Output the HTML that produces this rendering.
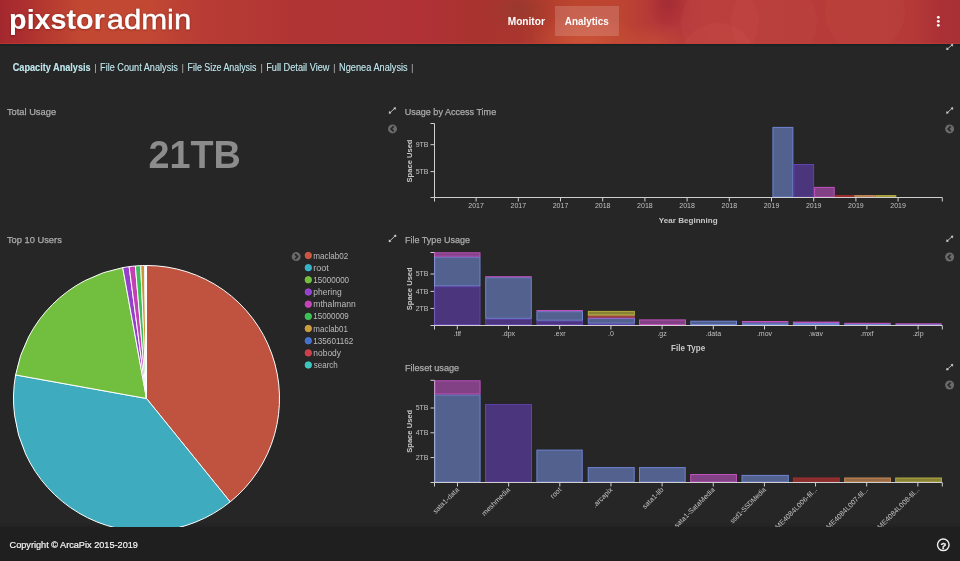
<!DOCTYPE html>
<html><head><meta charset="utf-8"><style>
html,body{margin:0;padding:0;width:960px;height:561px;overflow:hidden;background:#262626;}
#hdr{display:none;}
#hdr:after{content:"";position:absolute;left:0;top:43px;width:960px;height:1px;background:#c43c38;}
#hl{position:absolute;left:0;top:44px;width:960px;height:2px;background:#1c2323;}
#ft{position:absolute;left:0;top:523px;width:960px;height:4px;background:linear-gradient(#262626,#222);}
svg{position:absolute;left:0;top:0;will-change:transform;}
text{font-family:"Liberation Sans",sans-serif;}
</style></head><body>
<div id="ft"></div>
<svg width="960" height="561" viewBox="0 0 960 561">
<defs><filter id="lsh" x="-5%" y="-20%" width="110%" height="140%"><feDropShadow dx="0" dy="0.5" stdDeviation="0.8" flood-color="#500" flood-opacity="0.6"/></filter><filter id="sh" x="-5%" y="-30%" width="110%" height="160%"><feDropShadow dx="0" dy="0" stdDeviation="0.6" flood-color="#000" flood-opacity="0.9"/></filter></defs>
<defs>
<linearGradient id="hg" x1="0" x2="960" y1="0" y2="0" gradientUnits="userSpaceOnUse">
<stop offset="0" stop-color="#a3282e"/><stop offset="0.02" stop-color="#ab2d2f"/><stop offset="0.05" stop-color="#b73a30"/>
<stop offset="0.085" stop-color="#c24832"/><stop offset="0.155" stop-color="#c24834"/><stop offset="0.21" stop-color="#b83c34"/>
<stop offset="0.31" stop-color="#b13434"/><stop offset="0.44" stop-color="#b03237"/><stop offset="0.49" stop-color="#a9332f"/>
<stop offset="0.54" stop-color="#a9362e"/><stop offset="0.6" stop-color="#bd452e"/><stop offset="0.65" stop-color="#bc4432"/>
<stop offset="0.69" stop-color="#b2353a"/><stop offset="0.74" stop-color="#b83c39"/><stop offset="0.92" stop-color="#b73b38"/>
<stop offset="0.955" stop-color="#b33837"/><stop offset="0.98" stop-color="#aa3035"/><stop offset="1" stop-color="#a93135"/></linearGradient>
<radialGradient id="og"><stop offset="0" stop-color="#cc5538" stop-opacity="0.85"/><stop offset="1" stop-color="#cc5538" stop-opacity="0"/></radialGradient>
<radialGradient id="dg"><stop offset="0" stop-color="#9a2530" stop-opacity="0.7"/><stop offset="1" stop-color="#9a2530" stop-opacity="0"/></radialGradient>
<radialGradient id="bg2"><stop offset="0" stop-color="#8f3a2c" stop-opacity="0.6"/><stop offset="1" stop-color="#8f3a2c" stop-opacity="0"/></radialGradient>
<clipPath id="hc"><rect x="0" y="0" width="960" height="44"/></clipPath>
<filter id="bl" x="-20%" y="-20%" width="140%" height="140%"><feGaussianBlur stdDeviation="0.6"/></filter>
</defs>
<g clip-path="url(#hc)"><rect x="0" y="0" width="960" height="44" fill="url(#hg)"/>
<ellipse cx="585" cy="42" rx="55" ry="30" fill="url(#og)"/>
<ellipse cx="655" cy="44" rx="40" ry="22" fill="url(#og)" opacity="0.7"/>
<ellipse cx="668" cy="4" rx="22" ry="24" fill="url(#dg)" opacity="0.8"/>
<ellipse cx="520" cy="10" rx="35" ry="22" fill="url(#bg2)"/>
<g filter="url(#bl)">
<circle cx="720" cy="22" r="39" fill="#e07070" fill-opacity="0.07"/>
<circle cx="774" cy="22" r="43" fill="#e07070" fill-opacity="0.06"/>
<circle cx="718" cy="61" r="38" fill="#e06a5a" fill-opacity="0.10"/>
<circle cx="865" cy="12" r="40" fill="#e07060" fill-opacity="0.06"/>
</g></g>
<rect x="0" y="43" width="960" height="1" fill="#c43c38" fill-opacity="0.6"/>
<rect x="0" y="44" width="960" height="2" fill="#1c2323"/>
<text x="9.11" y="28.9" font-size="28" fill="#fff" font-weight="bold" textLength="95.73" lengthAdjust="spacingAndGlyphs" filter="url(#lsh)">pixstor</text>
<text x="106.68" y="28.9" font-size="28" fill="#fff" textLength="84.64" lengthAdjust="spacingAndGlyphs" stroke="#fff" stroke-width="0.3" filter="url(#lsh)">admin</text>
<rect x="555" y="6" width="64" height="30" fill="#fff" fill-opacity="0.16"/>
<text x="507.72" y="25" font-size="10.2" fill="#fff" font-weight="bold" textLength="37.13" lengthAdjust="spacingAndGlyphs" >Monitor</text>
<text x="564.75" y="25" font-size="10.2" fill="#fff" font-weight="bold" textLength="43.95" lengthAdjust="spacingAndGlyphs" >Analytics</text>
<circle cx="938.3" cy="17.3" r="1.4" fill="#fff"/>
<circle cx="938.3" cy="21.3" r="1.4" fill="#fff"/>
<circle cx="938.3" cy="25.3" r="1.4" fill="#fff"/>
<text x="12.73" y="71" font-size="10" fill="#bde3ea" font-weight="bold" textLength="77.95" lengthAdjust="spacingAndGlyphs" filter="url(#sh)">Capacity Analysis</text>
<rect x="95.0" y="64" width="1" height="9" fill="#9a9a9a"/>
<text x="100.05" y="71" font-size="10" fill="#bde3ea" textLength="77.77" lengthAdjust="spacingAndGlyphs" filter="url(#sh)">File Count Analysis</text>
<rect x="182.2" y="64" width="1" height="9" fill="#9a9a9a"/>
<text x="187.58" y="71" font-size="10" fill="#bde3ea" textLength="68.84" lengthAdjust="spacingAndGlyphs" filter="url(#sh)">File Size Analysis</text>
<rect x="261.1" y="64" width="1" height="9" fill="#9a9a9a"/>
<text x="266.15" y="71" font-size="10" fill="#bde3ea" textLength="63.33" lengthAdjust="spacingAndGlyphs" filter="url(#sh)">Full Detail View</text>
<rect x="333.9" y="64" width="1" height="9" fill="#9a9a9a"/>
<text x="339.05" y="71" font-size="10" fill="#bde3ea" textLength="68.68" lengthAdjust="spacingAndGlyphs" filter="url(#sh)">Ngenea Analysis</text>
<rect x="411.8" y="64" width="1" height="9" fill="#9a9a9a"/>
<text x="6.89" y="114.8" font-size="9.8" fill="#acacac" textLength="49.21" lengthAdjust="spacingAndGlyphs" stroke="#acacac" stroke-width="0.25">Total Usage</text>
<text x="6.89" y="243" font-size="9.8" fill="#acacac" textLength="54.94" lengthAdjust="spacingAndGlyphs" stroke="#acacac" stroke-width="0.25">Top 10 Users</text>
<text x="404.71" y="114.6" font-size="9.8" fill="#acacac" textLength="91.49" lengthAdjust="spacingAndGlyphs" stroke="#acacac" stroke-width="0.25">Usage by Access Time</text>
<text x="404.97" y="242.8" font-size="9.8" fill="#acacac" textLength="65.03" lengthAdjust="spacingAndGlyphs" stroke="#acacac" stroke-width="0.25">File Type Usage</text>
<text x="404.95" y="370.8" font-size="9.8" fill="#acacac" textLength="54.2" lengthAdjust="spacingAndGlyphs" stroke="#acacac" stroke-width="0.25">Fileset usage</text>
<text x="148.39" y="168.2" font-size="38.5" fill="#8c8c8c" font-weight="bold" textLength="92.43" lengthAdjust="spacingAndGlyphs" >21TB</text>
<line x1="389.4" y1="113.1" x2="395.3" y2="107.9" stroke="#c8c8c8" stroke-width="0.9"/>
<path d="M395.6 107.60000000000001 l-2.0 0.35 l1.65 1.65 z" fill="#d4d4d4" stroke="#d4d4d4" stroke-width="0.5" stroke-linejoin="round"/>
<path d="M389.09999999999997 113.39999999999999 l2.0 -0.35 l-1.65 -1.65 z" fill="#d4d4d4" stroke="#d4d4d4" stroke-width="0.5" stroke-linejoin="round"/>
<circle cx="392.5" cy="128.9" r="4.5" fill="#6a6a6a"/>
<path d="M393.6 126.4 L391.1 128.9 L393.6 131.4" fill="none" stroke="#262626" stroke-width="1.6"/>
<line x1="946.8" y1="113.1" x2="952.6" y2="107.9" stroke="#c8c8c8" stroke-width="0.9"/>
<path d="M952.9 107.60000000000001 l-2.0 0.35 l1.65 1.65 z" fill="#d4d4d4" stroke="#d4d4d4" stroke-width="0.5" stroke-linejoin="round"/>
<path d="M946.5 113.39999999999999 l2.0 -0.35 l-1.65 -1.65 z" fill="#d4d4d4" stroke="#d4d4d4" stroke-width="0.5" stroke-linejoin="round"/>
<circle cx="949.6" cy="128.9" r="4.5" fill="#6a6a6a"/>
<path d="M950.7 126.4 L948.2 128.9 L950.7 131.4" fill="none" stroke="#262626" stroke-width="1.6"/>
<line x1="389.2" y1="241.5" x2="395.8" y2="235.3" stroke="#c8c8c8" stroke-width="0.9"/>
<path d="M396.1 235.0 l-2.0 0.35 l1.65 1.65 z" fill="#d4d4d4" stroke="#d4d4d4" stroke-width="0.5" stroke-linejoin="round"/>
<path d="M388.9 241.8 l2.0 -0.35 l-1.65 -1.65 z" fill="#d4d4d4" stroke="#d4d4d4" stroke-width="0.5" stroke-linejoin="round"/>
<line x1="946.8" y1="241.3" x2="952.6" y2="236.2" stroke="#c8c8c8" stroke-width="0.9"/>
<path d="M952.9 235.89999999999998 l-2.0 0.35 l1.65 1.65 z" fill="#d4d4d4" stroke="#d4d4d4" stroke-width="0.5" stroke-linejoin="round"/>
<path d="M946.5 241.60000000000002 l2.0 -0.35 l-1.65 -1.65 z" fill="#d4d4d4" stroke="#d4d4d4" stroke-width="0.5" stroke-linejoin="round"/>
<circle cx="949.6" cy="257" r="4.5" fill="#6a6a6a"/>
<path d="M950.7 254.5 L948.2 257 L950.7 259.5" fill="none" stroke="#262626" stroke-width="1.6"/>
<line x1="946.8" y1="369.8" x2="952.6" y2="364.6" stroke="#c8c8c8" stroke-width="0.9"/>
<path d="M952.9 364.3 l-2.0 0.35 l1.65 1.65 z" fill="#d4d4d4" stroke="#d4d4d4" stroke-width="0.5" stroke-linejoin="round"/>
<path d="M946.5 370.1 l2.0 -0.35 l-1.65 -1.65 z" fill="#d4d4d4" stroke="#d4d4d4" stroke-width="0.5" stroke-linejoin="round"/>
<circle cx="949.6" cy="385" r="4.5" fill="#6a6a6a"/>
<path d="M950.7 382.5 L948.2 385 L950.7 387.5" fill="none" stroke="#262626" stroke-width="1.6"/>
<line x1="946.8" y1="49.4" x2="952.6" y2="44.6" stroke="#c8c8c8" stroke-width="0.9"/>
<path d="M952.9 44.300000000000004 l-2.0 0.35 l1.65 1.65 z" fill="#d4d4d4" stroke="#d4d4d4" stroke-width="0.5" stroke-linejoin="round"/>
<path d="M946.5 49.699999999999996 l2.0 -0.35 l-1.65 -1.65 z" fill="#d4d4d4" stroke="#d4d4d4" stroke-width="0.5" stroke-linejoin="round"/>
<circle cx="296.2" cy="256.6" r="4.5" fill="#6a6a6a"/>
<path d="M295.09999999999997 254.10000000000002 L297.59999999999997 256.6 L295.09999999999997 259.1" fill="none" stroke="#262626" stroke-width="1.6"/>
<g stroke="#fff" stroke-width="1" stroke-linejoin="round">
<path d="M146.5 398.5 L146.50 265.50 A133 133 0 0 1 230.20 501.86 Z" fill="#c05240"/>
<path d="M146.5 398.5 L230.20 501.86 A133 133 0 0 1 15.60 374.95 Z" fill="#3eacbe"/>
<path d="M146.5 398.5 L15.60 374.95 A133 133 0 0 1 122.72 267.64 Z" fill="#72bf40"/>
<path d="M146.5 398.5 L122.72 267.64 A133 133 0 0 1 129.14 266.64 Z" fill="#9440cc"/>
<path d="M146.5 398.5 L129.14 266.64 A133 133 0 0 1 135.37 265.97 Z" fill="#c240b4"/>
<path d="M146.5 398.5 L135.37 265.97 A133 133 0 0 1 140.70 265.63 Z" fill="#3cbf55"/>
<path d="M146.5 398.5 L140.70 265.63 A133 133 0 0 1 144.64 265.51 Z" fill="#c99535"/>
<path d="M146.5 398.5 L144.64 265.51 A133 133 0 0 1 145.57 265.50 Z" fill="#4468cc"/>
<path d="M146.5 398.5 L145.57 265.50 A133 133 0 0 1 146.04 265.50 Z" fill="#cc3c48"/>
<path d="M146.5 398.5 L146.04 265.50 A133 133 0 0 1 146.50 265.50 Z" fill="#3cc4bc"/>
</g>
<circle cx="308.3" cy="255.5" r="3.2" fill="#c85540" stroke="#d85a48" stroke-width="0.9"/>
<text x="313.36" y="258.5" font-size="8.2" fill="#bcbcbc" textLength="34.94" lengthAdjust="spacingAndGlyphs" >maclab02</text>
<circle cx="308.3" cy="267.7" r="3.2" fill="#38b0c4" stroke="#3cc0d4" stroke-width="0.9"/>
<text x="313.3" y="270.67" font-size="8.2" fill="#bcbcbc" textLength="15.46" lengthAdjust="spacingAndGlyphs" >root</text>
<circle cx="308.3" cy="279.8" r="3.2" fill="#70c03a" stroke="#7ccc44" stroke-width="0.9"/>
<text x="313.29" y="282.84" font-size="8.2" fill="#bcbcbc" textLength="35.83" lengthAdjust="spacingAndGlyphs" >15000000</text>
<circle cx="308.3" cy="292.0" r="3.2" fill="#9442cc" stroke="#a04cd8" stroke-width="0.9"/>
<text x="313.35" y="295.01" font-size="8.2" fill="#bcbcbc" textLength="28.4" lengthAdjust="spacingAndGlyphs" >phering</text>
<circle cx="308.3" cy="304.2" r="3.2" fill="#c442b8" stroke="#d04cc4" stroke-width="0.9"/>
<text x="313.33" y="307.18" font-size="8.2" fill="#bcbcbc" textLength="42.43" lengthAdjust="spacingAndGlyphs" >mthalmann</text>
<circle cx="308.3" cy="316.4" r="3.2" fill="#3cc055" stroke="#44cc60" stroke-width="0.9"/>
<text x="313.29" y="319.35" font-size="8.2" fill="#bcbcbc" textLength="35.49" lengthAdjust="spacingAndGlyphs" >15000009</text>
<circle cx="308.3" cy="328.5" r="3.2" fill="#cc9c3c" stroke="#d8a848" stroke-width="0.9"/>
<text x="313.37" y="331.52" font-size="8.2" fill="#bcbcbc" textLength="34.52" lengthAdjust="spacingAndGlyphs" >maclab01</text>
<circle cx="308.3" cy="340.7" r="3.2" fill="#4570d0" stroke="#4c7cdc" stroke-width="0.9"/>
<text x="313.29" y="343.69" font-size="8.2" fill="#bcbcbc" textLength="40.11" lengthAdjust="spacingAndGlyphs" >135601162</text>
<circle cx="308.3" cy="352.9" r="3.2" fill="#cc3e4a" stroke="#d84854" stroke-width="0.9"/>
<text x="313.34" y="355.86" font-size="8.2" fill="#bcbcbc" textLength="27.68" lengthAdjust="spacingAndGlyphs" >nobody</text>
<circle cx="308.3" cy="365.0" r="3.2" fill="#3cc4bc" stroke="#44d0c8" stroke-width="0.9"/>
<text x="313.68" y="368.03" font-size="8.2" fill="#bcbcbc" textLength="24.15" lengthAdjust="spacingAndGlyphs" >search</text>
<path d="M430.5 123.5 H434.5 V197.5 H430.5" fill="none" stroke="#d0d0d0" stroke-width="1"/>
<line x1="430.5" y1="144.7" x2="434.5" y2="144.7" stroke="#d0d0d0" stroke-width="1"/>
<text x="428.5" y="147.1" font-size="7" fill="#c0c0c0" text-anchor="end" >9TB</text>
<line x1="430.5" y1="171.6" x2="434.5" y2="171.6" stroke="#d0d0d0" stroke-width="1"/>
<text x="428.5" y="174.0" font-size="7" fill="#c0c0c0" text-anchor="end" >5TB</text>
<text x="476.1" y="207.5" font-size="7" fill="#c0c0c0" text-anchor="middle" >2017</text>
<text x="518.3" y="207.5" font-size="7" fill="#c0c0c0" text-anchor="middle" >2017</text>
<text x="560.5" y="207.5" font-size="7" fill="#c0c0c0" text-anchor="middle" >2017</text>
<text x="602.7" y="207.5" font-size="7" fill="#c0c0c0" text-anchor="middle" >2018</text>
<text x="644.9" y="207.5" font-size="7" fill="#c0c0c0" text-anchor="middle" >2018</text>
<text x="687.1" y="207.5" font-size="7" fill="#c0c0c0" text-anchor="middle" >2018</text>
<text x="729.3" y="207.5" font-size="7" fill="#c0c0c0" text-anchor="middle" >2018</text>
<text x="771.5" y="207.5" font-size="7" fill="#c0c0c0" text-anchor="middle" >2019</text>
<text x="813.7" y="207.5" font-size="7" fill="#c0c0c0" text-anchor="middle" >2019</text>
<text x="855.9" y="207.5" font-size="7" fill="#c0c0c0" text-anchor="middle" >2019</text>
<text x="898.1" y="207.5" font-size="7" fill="#c0c0c0" text-anchor="middle" >2019</text>
<text x="658.86" y="222.9" font-size="8" fill="#c8c8c8" font-weight="bold" textLength="58.77" lengthAdjust="spacingAndGlyphs" >Year Beginning</text>
<text transform="translate(411.5,161) rotate(-90)" font-size="8" font-weight="bold" fill="#c8c8c8" text-anchor="middle" textLength="43" lengthAdjust="spacingAndGlyphs">Space Used</text>
<rect x="772.9" y="127.4" width="20.0" height="69.6" fill="#7088d2" fill-opacity="0.6" stroke="#6f84d2" stroke-width="1"/>
<rect x="793.9" y="164.5" width="19.7" height="32.5" fill="#643fb5" fill-opacity="0.6" stroke="#6242b0" stroke-width="1"/>
<rect x="814.6" y="187.4" width="19.6" height="9.6" fill="#bf53c3" fill-opacity="0.6" stroke="#c052c0" stroke-width="1"/>
<rect x="835.2" y="195.6" width="18.6" height="1.4" fill="#cc3434" fill-opacity="0.6" stroke="#a62e2e" stroke-width="1"/>
<rect x="854.8" y="195.6" width="20.1" height="1.4" fill="#e09a5c" fill-opacity="0.6" stroke="#c88a58" stroke-width="1"/>
<rect x="875.9" y="195.6" width="19.9" height="1.4" fill="#c8c040" fill-opacity="0.6" stroke="#b4ac40" stroke-width="1"/>
<path d="M430.5 252.5 H434.5 V325.5 H430.5" fill="none" stroke="#d0d0d0" stroke-width="1"/>
<line x1="430.5" y1="274" x2="434.5" y2="274" stroke="#d0d0d0" stroke-width="1"/>
<text x="428.5" y="276.4" font-size="7" fill="#c0c0c0" text-anchor="end" >5TB</text>
<line x1="430.5" y1="291.4" x2="434.5" y2="291.4" stroke="#d0d0d0" stroke-width="1"/>
<text x="428.5" y="293.79999999999995" font-size="7" fill="#c0c0c0" text-anchor="end" >4TB</text>
<line x1="430.5" y1="308.4" x2="434.5" y2="308.4" stroke="#d0d0d0" stroke-width="1"/>
<text x="428.5" y="310.79999999999995" font-size="7" fill="#c0c0c0" text-anchor="end" >2TB</text>
<text x="457.3" y="335.5" font-size="7" fill="#c0c0c0" text-anchor="middle" >.tif</text>
<text x="508.5" y="335.5" font-size="7" fill="#c0c0c0" text-anchor="middle" >.dpx</text>
<text x="559.7" y="335.5" font-size="7" fill="#c0c0c0" text-anchor="middle" >.exr</text>
<text x="610.9" y="335.5" font-size="7" fill="#c0c0c0" text-anchor="middle" >.0</text>
<text x="662.1" y="335.5" font-size="7" fill="#c0c0c0" text-anchor="middle" >.gz</text>
<text x="713.3" y="335.5" font-size="7" fill="#c0c0c0" text-anchor="middle" >.data</text>
<text x="764.5" y="335.5" font-size="7" fill="#c0c0c0" text-anchor="middle" >.mov</text>
<text x="815.7" y="335.5" font-size="7" fill="#c0c0c0" text-anchor="middle" >.wav</text>
<text x="866.9" y="335.5" font-size="7" fill="#c0c0c0" text-anchor="middle" >.mxf</text>
<text x="918.1" y="335.5" font-size="7" fill="#c0c0c0" text-anchor="middle" >.zip</text>
<text x="671.07" y="351" font-size="8.2" fill="#c8c8c8" font-weight="bold" textLength="34.1" lengthAdjust="spacingAndGlyphs" >File Type</text>
<text transform="translate(411.5,288.8) rotate(-90)" font-size="8" font-weight="bold" fill="#c8c8c8" text-anchor="middle" textLength="43" lengthAdjust="spacingAndGlyphs">Space Used</text>
<rect x="434.7" y="286.8" width="45.3" height="37.7" fill="#643fb5" fill-opacity="0.6" stroke="#6242b0" stroke-width="1"/>
<rect x="434.7" y="257.2" width="45.3" height="28.6" fill="#7088d2" fill-opacity="0.6" stroke="#6f84d2" stroke-width="1"/>
<rect x="434.7" y="252.8" width="45.3" height="3.4" fill="#bf53c3" fill-opacity="0.6" stroke="#c052c0" stroke-width="1"/>
<rect x="485.7" y="319.3" width="45.6" height="5.2" fill="#643fb5" fill-opacity="0.6" stroke="#6242b0" stroke-width="1"/>
<rect x="485.7" y="277.7" width="45.6" height="40.6" fill="#7088d2" fill-opacity="0.6" stroke="#6f84d2" stroke-width="1"/>
<rect x="485.7" y="276.7" width="45.6" height="0.1" fill="#bf53c3" fill-opacity="0.6" stroke="#c052c0" stroke-width="1"/>
<rect x="536.9" y="321.2" width="45.6" height="3.3" fill="#643fb5" fill-opacity="0.6" stroke="#6242b0" stroke-width="1"/>
<rect x="536.9" y="311.7" width="45.6" height="8.5" fill="#7088d2" fill-opacity="0.6" stroke="#6f84d2" stroke-width="1"/>
<rect x="536.9" y="310.5" width="45.6" height="0.2" fill="#bf53c3" fill-opacity="0.6" stroke="#c052c0" stroke-width="1"/>
<rect x="588.3" y="324.1" width="46.1" height="0.4" fill="#643fb5" fill-opacity="0.6" stroke="#6242b0" stroke-width="1"/>
<rect x="588.3" y="318.6" width="46.1" height="4.5" fill="#7088d2" fill-opacity="0.6" stroke="#6f84d2" stroke-width="1"/>
<rect x="588.3" y="317.8" width="46.1" height="0.1" fill="#bf53c3" fill-opacity="0.6" stroke="#c052c0" stroke-width="1"/>
<rect x="588.3" y="316.8" width="46.1" height="0.1" fill="#cc3434" fill-opacity="0.6" stroke="#a62e2e" stroke-width="1"/>
<rect x="588.3" y="315.7" width="46.1" height="0.1" fill="#e09a5c" fill-opacity="0.6" stroke="#c88a58" stroke-width="1"/>
<rect x="588.3" y="311.4" width="46.1" height="3.3" fill="#c8c040" fill-opacity="0.6" stroke="#b4ac40" stroke-width="1"/>
<rect x="639.5" y="319.9" width="46.0" height="4.6" fill="#bf53c3" fill-opacity="0.6" stroke="#c052c0" stroke-width="1"/>
<rect x="690.8" y="321.2" width="45.7" height="3.3" fill="#7088d2" fill-opacity="0.6" stroke="#6f84d2" stroke-width="1"/>
<rect x="742.5" y="323.0" width="45.4" height="1.5" fill="#7088d2" fill-opacity="0.6" stroke="#6f84d2" stroke-width="1"/>
<rect x="742.5" y="321.5" width="45.4" height="0.5" fill="#bf53c3" fill-opacity="0.6" stroke="#c052c0" stroke-width="1"/>
<rect x="793.4" y="323.5" width="45.6" height="1.0" fill="#7088d2" fill-opacity="0.6" stroke="#6f84d2" stroke-width="1"/>
<rect x="793.4" y="322.1" width="45.6" height="0.4" fill="#bf53c3" fill-opacity="0.6" stroke="#c052c0" stroke-width="1"/>
<rect x="844.7" y="324.1" width="45.6" height="0.4" fill="#7088d2" fill-opacity="0.6" stroke="#6f84d2" stroke-width="1"/>
<rect x="844.7" y="323.3" width="45.6" height="0.1" fill="#bf53c3" fill-opacity="0.6" stroke="#c052c0" stroke-width="1"/>
<rect x="896.0" y="324.5" width="45.2" height="0.1" fill="#7088d2" fill-opacity="0.6" stroke="#6f84d2" stroke-width="1"/>
<rect x="896.0" y="323.8" width="45.2" height="0.1" fill="#bf53c3" fill-opacity="0.6" stroke="#c052c0" stroke-width="1"/>
<path d="M430.5 380.3 H434.5 V482.5 H430.5" fill="none" stroke="#d0d0d0" stroke-width="1"/>
<line x1="430.5" y1="408" x2="434.5" y2="408" stroke="#d0d0d0" stroke-width="1"/>
<text x="428.5" y="410.4" font-size="7" fill="#c0c0c0" text-anchor="end" >5TB</text>
<line x1="430.5" y1="432.8" x2="434.5" y2="432.8" stroke="#d0d0d0" stroke-width="1"/>
<text x="428.5" y="435.2" font-size="7" fill="#c0c0c0" text-anchor="end" >4TB</text>
<line x1="430.5" y1="457.6" x2="434.5" y2="457.6" stroke="#d0d0d0" stroke-width="1"/>
<text x="428.5" y="460.0" font-size="7" fill="#c0c0c0" text-anchor="end" >2TB</text>
<text transform="translate(411.5,431.3) rotate(-90)" font-size="8" font-weight="bold" fill="#c8c8c8" text-anchor="middle" textLength="43" lengthAdjust="spacingAndGlyphs">Space Used</text>
<rect x="435.0" y="395.0" width="45.1" height="87.0" fill="#7088d2" fill-opacity="0.6" stroke="#6f84d2" stroke-width="1"/>
<rect x="435.0" y="380.8" width="45.1" height="13.2" fill="#bf53c3" fill-opacity="0.6" stroke="#c052c0" stroke-width="1"/>
<rect x="485.5" y="404.6" width="46.0" height="77.4" fill="#643fb5" fill-opacity="0.6" stroke="#6242b0" stroke-width="1"/>
<rect x="536.9" y="450.1" width="45.3" height="31.9" fill="#7088d2" fill-opacity="0.6" stroke="#6f84d2" stroke-width="1"/>
<rect x="588.2" y="467.6" width="46.0" height="14.4" fill="#7088d2" fill-opacity="0.6" stroke="#6f84d2" stroke-width="1"/>
<rect x="639.5" y="467.6" width="45.7" height="14.4" fill="#7088d2" fill-opacity="0.6" stroke="#6f84d2" stroke-width="1"/>
<rect x="690.7" y="474.5" width="45.7" height="7.5" fill="#bf53c3" fill-opacity="0.6" stroke="#c052c0" stroke-width="1"/>
<rect x="742.0" y="475.4" width="46.3" height="6.6" fill="#7088d2" fill-opacity="0.6" stroke="#6f84d2" stroke-width="1"/>
<rect x="793.4" y="478.0" width="45.9" height="4.0" fill="#cc3434" fill-opacity="0.6" stroke="#a62e2e" stroke-width="1"/>
<rect x="844.7" y="478.0" width="45.7" height="4.0" fill="#e09a5c" fill-opacity="0.6" stroke="#c88a58" stroke-width="1"/>
<rect x="895.7" y="478.0" width="45.7" height="4.0" fill="#c8c040" fill-opacity="0.6" stroke="#b4ac40" stroke-width="1"/>
<text transform="translate(459.5,490.2) rotate(-45)" font-size="7.15" fill="#c4c4c4" text-anchor="end">sata1-data</text>
<text transform="translate(510.6,490.2) rotate(-45)" font-size="7.15" fill="#c4c4c4" text-anchor="end">meshmedia</text>
<text transform="translate(561.8,490.2) rotate(-45)" font-size="7.15" fill="#c4c4c4" text-anchor="end">root</text>
<text transform="translate(613.0,490.2) rotate(-45)" font-size="7.15" fill="#c4c4c4" text-anchor="end">.arcapix</text>
<text transform="translate(664.1,490.2) rotate(-45)" font-size="7.15" fill="#c4c4c4" text-anchor="end">sata1-lib</text>
<text transform="translate(715.2,490.2) rotate(-45)" font-size="7.15" fill="#c4c4c4" text-anchor="end">sata1-SataMedia</text>
<text transform="translate(766.4,490.2) rotate(-45)" font-size="7.15" fill="#c4c4c4" text-anchor="end" textLength="47.6" lengthAdjust="spacingAndGlyphs">ssd1-SSDMedia</text>
<text transform="translate(817.5,490.2) rotate(-45)" font-size="7.15" fill="#c4c4c4" text-anchor="end">ME4084L006-fil...</text>
<text transform="translate(868.7,490.2) rotate(-45)" font-size="7.15" fill="#c4c4c4" text-anchor="end">ME4084L007-fil...</text>
<text transform="translate(919.8,490.2) rotate(-45)" font-size="7.15" fill="#c4c4c4" text-anchor="end">ME4084L008-fil...</text>
<path d="M434.5 201.5 V197.5 H942.3 V201.5" fill="none" stroke="#d0d0d0" stroke-width="1"/>
<line x1="476.1" y1="197.5" x2="476.1" y2="201.5" stroke="#d0d0d0" stroke-width="1"/>
<line x1="518.3000000000001" y1="197.5" x2="518.3000000000001" y2="201.5" stroke="#d0d0d0" stroke-width="1"/>
<line x1="560.5" y1="197.5" x2="560.5" y2="201.5" stroke="#d0d0d0" stroke-width="1"/>
<line x1="602.7" y1="197.5" x2="602.7" y2="201.5" stroke="#d0d0d0" stroke-width="1"/>
<line x1="644.9000000000001" y1="197.5" x2="644.9000000000001" y2="201.5" stroke="#d0d0d0" stroke-width="1"/>
<line x1="687.1" y1="197.5" x2="687.1" y2="201.5" stroke="#d0d0d0" stroke-width="1"/>
<line x1="729.3000000000001" y1="197.5" x2="729.3000000000001" y2="201.5" stroke="#d0d0d0" stroke-width="1"/>
<line x1="771.5" y1="197.5" x2="771.5" y2="201.5" stroke="#d0d0d0" stroke-width="1"/>
<line x1="813.7" y1="197.5" x2="813.7" y2="201.5" stroke="#d0d0d0" stroke-width="1"/>
<line x1="855.9000000000001" y1="197.5" x2="855.9000000000001" y2="201.5" stroke="#d0d0d0" stroke-width="1"/>
<line x1="898.1" y1="197.5" x2="898.1" y2="201.5" stroke="#d0d0d0" stroke-width="1"/>
<path d="M434.5 329.5 V325.5 H942.3 V329.5" fill="none" stroke="#d0d0d0" stroke-width="1"/>
<line x1="457.3" y1="325.5" x2="457.3" y2="329.5" stroke="#d0d0d0" stroke-width="1"/>
<line x1="508.5" y1="325.5" x2="508.5" y2="329.5" stroke="#d0d0d0" stroke-width="1"/>
<line x1="559.7" y1="325.5" x2="559.7" y2="329.5" stroke="#d0d0d0" stroke-width="1"/>
<line x1="610.9000000000001" y1="325.5" x2="610.9000000000001" y2="329.5" stroke="#d0d0d0" stroke-width="1"/>
<line x1="662.1" y1="325.5" x2="662.1" y2="329.5" stroke="#d0d0d0" stroke-width="1"/>
<line x1="713.3" y1="325.5" x2="713.3" y2="329.5" stroke="#d0d0d0" stroke-width="1"/>
<line x1="764.5" y1="325.5" x2="764.5" y2="329.5" stroke="#d0d0d0" stroke-width="1"/>
<line x1="815.7" y1="325.5" x2="815.7" y2="329.5" stroke="#d0d0d0" stroke-width="1"/>
<line x1="866.9000000000001" y1="325.5" x2="866.9000000000001" y2="329.5" stroke="#d0d0d0" stroke-width="1"/>
<line x1="918.1" y1="325.5" x2="918.1" y2="329.5" stroke="#d0d0d0" stroke-width="1"/>
<path d="M434.5 486.5 V482.5 H942.3 V486.5" fill="none" stroke="#d0d0d0" stroke-width="1"/>
<line x1="457.5" y1="482.5" x2="457.5" y2="486.5" stroke="#d0d0d0" stroke-width="1"/>
<line x1="508.65" y1="482.5" x2="508.65" y2="486.5" stroke="#d0d0d0" stroke-width="1"/>
<line x1="559.8" y1="482.5" x2="559.8" y2="486.5" stroke="#d0d0d0" stroke-width="1"/>
<line x1="610.95" y1="482.5" x2="610.95" y2="486.5" stroke="#d0d0d0" stroke-width="1"/>
<line x1="662.1" y1="482.5" x2="662.1" y2="486.5" stroke="#d0d0d0" stroke-width="1"/>
<line x1="713.25" y1="482.5" x2="713.25" y2="486.5" stroke="#d0d0d0" stroke-width="1"/>
<line x1="764.4" y1="482.5" x2="764.4" y2="486.5" stroke="#d0d0d0" stroke-width="1"/>
<line x1="815.55" y1="482.5" x2="815.55" y2="486.5" stroke="#d0d0d0" stroke-width="1"/>
<line x1="866.7" y1="482.5" x2="866.7" y2="486.5" stroke="#d0d0d0" stroke-width="1"/>
<line x1="917.8499999999999" y1="482.5" x2="917.8499999999999" y2="486.5" stroke="#d0d0d0" stroke-width="1"/>
<rect x="0" y="527" width="960" height="34" fill="#1f1f1f"/>
<text x="9.54" y="548" font-size="9.2" fill="#f4f4f4" textLength="128.4" lengthAdjust="spacingAndGlyphs" stroke="#f4f4f4" stroke-width="0.2">Copyright © ArcaPix 2015-2019</text>
<circle cx="943.3" cy="544.8" r="5.8" fill="none" stroke="#f0f0f0" stroke-width="1.4"/>
<text x="943.4" y="548.6" font-size="9.6" fill="#f0f0f0" font-weight="bold" text-anchor="middle" stroke="#f0f0f0" stroke-width="0.3">?</text>
</svg>
</body></html>
